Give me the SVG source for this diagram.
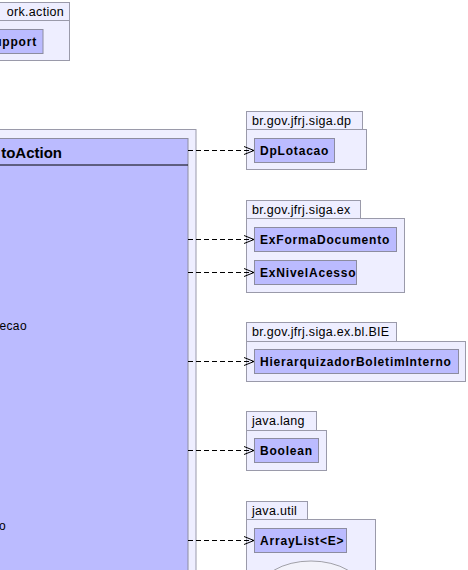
<svg xmlns="http://www.w3.org/2000/svg" width="468" height="570" viewBox="0 0 468 570">
<style>
.pkg{fill:#eeeeff;stroke:#9a9aaa;stroke-width:1}
.cls{fill:#bbbbff;stroke:#8c8ca0;stroke-width:1}
.ptxt{font-family:"Liberation Sans",Arial,sans-serif;font-size:12.5px;letter-spacing:0.3px;fill:#000}
.ctxt{font-family:"Liberation Sans",Arial,sans-serif;font-size:12px;font-weight:bold;letter-spacing:0.8px;fill:#000}
.atxt{font-family:"Liberation Sans",Arial,sans-serif;font-size:12px;letter-spacing:0.4px;fill:#000}
.dep{fill:none;stroke:#000;stroke-width:1;stroke-dasharray:5,3}
.head{fill:none;stroke:#000;stroke-width:1}
</style>
<rect width="468" height="570" fill="#ffffff"/>
<g id="pkg-action">
<rect class="pkg" x="-10" y="2.5" width="79.5" height="18"/>
<rect class="pkg" x="-10" y="20.5" width="79.5" height="40"/>
<text class="ptxt" x="64" y="16" text-anchor="end">ork.action</text>
<rect class="cls" x="-10" y="29.5" width="53" height="24"/>
<text class="ctxt" x="37" y="46" text-anchor="end">upport</text>
</g>
<g id="main-class">
<rect class="pkg" x="-10" y="129.5" width="206" height="450"/>
<rect class="cls" x="-10" y="138.5" width="198" height="440"/>
<line class="head" x1="-10" y1="165" x2="188" y2="165"/>
<text x="62" y="158" text-anchor="end" font-family="Liberation Sans,Arial,sans-serif" font-size="15" font-weight="bold">toAction</text>
<text class="atxt" x="27" y="330" text-anchor="end">ecao</text>
<text class="atxt" x="6" y="530" text-anchor="end">o</text>
</g>
<g id="pkg-dp">
<rect class="pkg" x="246.5" y="111.5" width="116" height="18"/>
<rect class="pkg" x="246.5" y="129.5" width="120" height="40"/>
<text class="ptxt" x="252" y="125">br.gov.jfrj.siga.dp</text>
<g id="DpLotacao"><rect class="cls" x="254.5" y="138.5" width="80" height="24"/>
<text class="ctxt" x="260" y="155">DpLotacao</text></g>
</g>
<g id="pkg-ex">
<rect class="pkg" x="246.5" y="200.5" width="114" height="18"/>
<rect class="pkg" x="246.5" y="218.5" width="158" height="74"/>
<text class="ptxt" x="252" y="214">br.gov.jfrj.siga.ex</text>
<g id="ExFormaDocumento"><rect class="cls" x="254.5" y="227.5" width="142" height="24"/>
<text class="ctxt" x="260" y="244">ExFormaDocumento</text></g>
<g id="ExNivelAcesso"><rect class="cls" x="254.5" y="260.5" width="102" height="24"/>
<text class="ctxt" x="260" y="277">ExNivelAcesso</text></g>
</g>
<g id="pkg-bie">
<rect class="pkg" x="246.5" y="322.5" width="150" height="19"/>
<rect class="pkg" x="246.5" y="341.5" width="219" height="40"/>
<text class="ptxt" x="252" y="336">br.gov.jfrj.siga.ex.bl.BIE</text>
<g id="HierarquizadorBoletimInterno"><rect class="cls" x="254.5" y="349.5" width="204" height="24"/>
<text class="ctxt" x="260" y="366">HierarquizadorBoletimInterno</text></g>
</g>
<g id="pkg-lang">
<rect class="pkg" x="246.5" y="411.5" width="70" height="19"/>
<rect class="pkg" x="246.5" y="430.5" width="80" height="40"/>
<text class="ptxt" x="252" y="425">java.lang</text>
<g id="Boolean"><rect class="cls" x="254.5" y="438.5" width="64" height="24"/>
<text class="ctxt" x="260" y="455">Boolean</text></g>
</g>
<g id="pkg-util">
<rect class="pkg" x="246.5" y="501.5" width="61" height="18"/>
<rect class="pkg" x="246.5" y="519.5" width="129" height="60"/>
<text class="ptxt" x="252" y="515">java.util</text>
<g id="ArrayList"><rect class="cls" x="254.5" y="528.5" width="92" height="24"/>
<text class="ctxt" x="260" y="545">ArrayList&lt;E&gt;</text></g>
<ellipse cx="311" cy="592" rx="52" ry="31" fill="#f2f2fa" stroke="#a0a0a8"/>
</g>
<g id="connectors">
<path class="dep" d="M188 150.5H254"/>
<path class="head" d="M244 146.5L254 150.5L244 154.5"/>
<path class="dep" d="M188 239.5H254"/>
<path class="head" d="M244 235.5L254 239.5L244 243.5"/>
<path class="dep" d="M188 272.5H254"/>
<path class="head" d="M244 268.5L254 272.5L244 276.5"/>
<path class="dep" d="M188 361.5H254"/>
<path class="head" d="M244 357.5L254 361.5L244 365.5"/>
<path class="dep" d="M188 450.5H254"/>
<path class="head" d="M244 446.5L254 450.5L244 454.5"/>
<path class="dep" d="M188 540.5H254"/>
<path class="head" d="M244 536.5L254 540.5L244 544.5"/>
</g>
</svg>
